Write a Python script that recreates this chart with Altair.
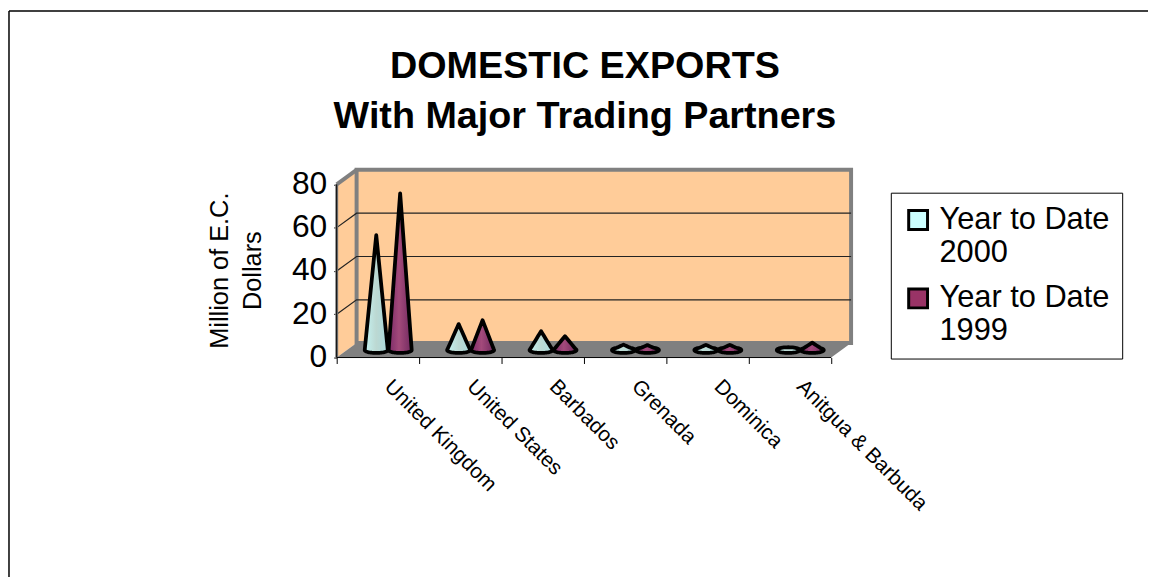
import math
import altair as alt
import pandas as pd

categories = ["United Kingdom", "United States", "Barbados", "Grenada", "Dominica", "Anitgua & Barbuda"]
series_names = ["Year to Date 2000", "Year to Date 1999"]
values_2000 = [53.1, 12.0, 8.7, 2.5, 2.4, 0.5]
values_1999 = [72.4, 13.8, 6.4, 2.3, 2.4, 3.4]
y_ticks = [0, 20, 40, 60, 80]
FONT = "Liberation Sans"

# depth of the pseudo-3D box, in data units
DX, DY = 0.2415, 6.67
XMAX, YMAX = 6 + DX, 80 + DY
BASE = 3.45        # floor height of cone-base centres
A, B = 0.14, 1.3   # base ellipse half-axes
OFFS = [0.48, 0.77]

rows = []
for s, vals, off in zip(series_names, [values_2000, values_1999], OFFS):
    for i, (c, v) in enumerate(zip(categories, vals)):
        cx = i + off
        n = 24
        xs = sorted({round(A * math.cos(math.pi * k / n), 5) for k in range(n + 1)} | {0.0})
        for ox in xs:
            t = math.sqrt(max(0, 1 - (ox / A) ** 2))
            cone = BASE + v * (1 - abs(ox) / A)
            rows.append({"series": s, "cone": f"{s}-{c}", "x": cx + ox,
                         "top": max(cone, BASE + B * t), "bottom": BASE - B * t})
cones = pd.DataFrame(rows)

X_SCALE = alt.Scale(domain=[0, XMAX], nice=False, zero=False)
Y_SCALE = alt.Scale(domain=[0, YMAX], nice=False)
X = alt.X("x:Q", scale=X_SCALE,
          axis=alt.Axis(values=list(range(7)), labels=False, domain=False, grid=False, ticks=True,
                        tickSize=6, tickColor="black", title=None))
Y_AXIS = alt.Axis(values=y_ticks, domain=False, grid=False, tickSize=3, tickColor="black",
                  labelFont=FONT, labelFontSize=32, labelColor="black", labelPadding=7, labelOffset=-1,
                  title=["Million of E.C.", "Dollars"], titleFont=FONT, titleFontSize=25.5,
                  titleFontWeight="normal", titleColor="black", titleX=-105, titleY=101,
                  titleLineHeight=33)
Y = alt.Y("y:Q", stack=None, scale=Y_SCALE, axis=Y_AXIS)
Y_TOP = alt.Y("top:Q", stack=None, scale=Y_SCALE, axis=Y_AXIS)

left_wall = alt.Chart(pd.DataFrame({"x": [0, DX], "y": [0, DY], "y2": [80, YMAX]})).mark_area(color="#FFCC99").encode(X, Y, y2="y2:Q")
back_wall = alt.Chart(pd.DataFrame({"x": [DX], "x2": [XMAX], "y": [DY], "y2": [YMAX]})).mark_rect(
    color="#FFCC99", stroke="#808080", strokeWidth=4).encode(X, alt.X2("x2:Q"), Y, alt.Y2("y2:Q"))
floor = alt.Chart(pd.DataFrame({"x": [0, DX, 6, XMAX], "y": [0, DY, DY, DY], "y2": [0, 0, 0, DY]})).mark_area(
    color="#808080").encode(X, Y, y2="y2:Q")

grid_rows = []
for t in y_ticks[1:-1]:
    grid_rows += [{"g": t, "x": 0, "y": t}, {"g": t, "x": DX, "y": t + DY}, {"g": t, "x": XMAX, "y": t + DY}]
grid = alt.Chart(pd.DataFrame(grid_rows)).mark_line(color="#222222", strokeWidth=1.2).encode(X, Y, detail="g:N")

edge = alt.Chart(pd.DataFrame({"x": [0, DX], "y": [80, YMAX]})).mark_line(color="#808080", strokeWidth=4).encode(X, Y)
side_edge = alt.Chart(pd.DataFrame({"x": [0, 0], "y": [0, 80]})).mark_line(color="#808080", strokeWidth=3).encode(X, Y)
axis_y = alt.Chart(pd.DataFrame({"x": [0, 0], "y": [0, 80]})).mark_line(color="black", strokeWidth=1).encode(X, Y)
axis_x = alt.Chart(pd.DataFrame({"x": [0, 6], "y": [0, 0]})).mark_line(color="black", strokeWidth=1).encode(X, Y)

base_cones = alt.Chart(cones).mark_area().encode(
    X, Y_TOP, alt.Y2("bottom:Q"),
    color=alt.Color("series:N", scale=alt.Scale(domain=series_names, range=["#CCFFFF", "#993366"]),
                    legend=alt.Legend(
                        title=None, orient="none", legendX=558, legendY=23,
                        fillColor="white", strokeColor="black", padding=12,
                        symbolType="square", symbolSize=360, symbolStrokeColor="black", symbolStrokeWidth=3,
                        symbolOpacity=1, labelFont=FONT, labelFontSize=31, labelColor="black", labelLimit=300,
                        labelExpr="[slice(datum.label,0,12), slice(datum.label,13)]",
                        rowPadding=14, labelOffset=6)),
    detail="cone:N")


def cone_layer(name, stops):
    g = alt.Gradient(gradient="linear", x1=0, x2=1, y1=0, y2=0,
                     stops=[alt.GradientStop(offset=o, color=c) for o, c in stops])
    return alt.Chart(cones).transform_filter(alt.datum.series == name).mark_area(
        color=g, stroke="black", strokeWidth=3.8, strokeJoin="round").encode(
        X, Y_TOP, alt.Y2("bottom:Q"), detail="cone:N")


cones_2000 = cone_layer(series_names[0], [(0, "#c4f3f2"), (0.5, "#bcd8d2"), (1, "#a9dadd")])
cones_1999 = cone_layer(series_names[1], [(0, "#7c2b68"), (0.45, "#a34a7b"), (1, "#71295f")])

labels = pd.DataFrame({"label": categories,
                       "x": [i + 0.5 + 0.12 for i in range(6)],
                       "y": [-12] * 6})
cat_text = alt.Chart(labels).mark_text(angle=45, align="left", baseline="middle", font=FONT, fontSize=21,
                                       color="black").encode(X, Y, text="label:N")

border_h = alt.Chart(pd.DataFrame({"x": [0]})).mark_rule(color="black", strokeWidth=1.5).encode(
    x=alt.value(-330), x2=alt.value(830), y=alt.value(-160))
border_v = alt.Chart(pd.DataFrame({"x": [0]})).mark_rule(color="black", strokeWidth=1.5).encode(
    x=alt.value(-330), y=alt.value(-160), y2=alt.value(420))

chart = alt.layer(
    left_wall, back_wall, floor, grid, edge, side_edge, axis_y, axis_x,
    base_cones, cones_2000, cones_1999, cat_text, border_h, border_v
).properties(
    width=518, height=189,
    padding={"left": 331, "top": 161, "right": 299, "bottom": 219},
    autosize=alt.AutoSizeParams(type="none"),
    background="white",
    title=alt.TitleParams(text=["DOMESTIC EXPORTS", "With Major Trading Partners"], font=FONT, fontSize=38,
                          fontWeight="bold", color="black", anchor="middle", dx=-9, offset=-127, lineHeight=51),
).configure_view(stroke=None)

chart.save("out.html", embed_options={"renderer": "svg", "actions": False})
